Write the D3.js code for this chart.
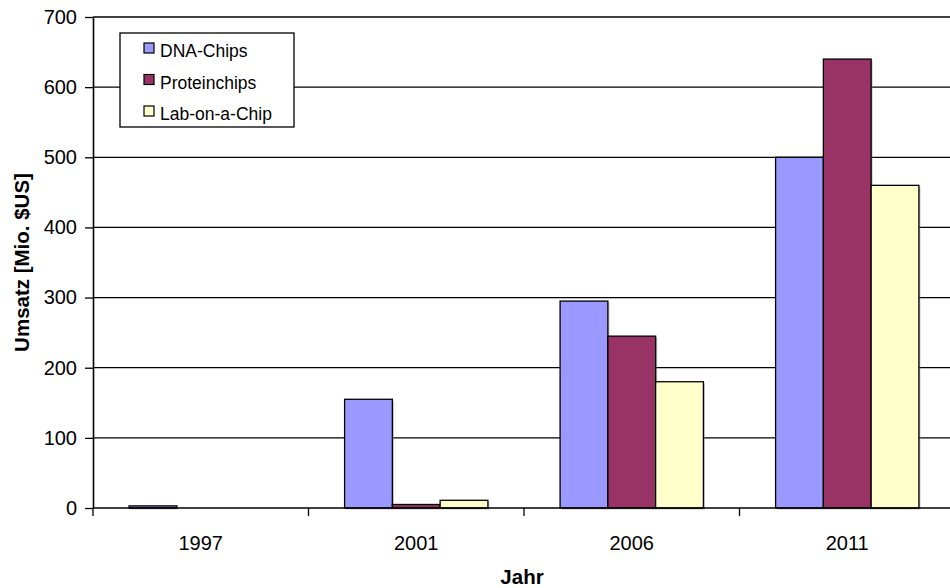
<!DOCTYPE html>
<html>
<head>
<meta charset="utf-8">
<script src="https://cdn.jsdelivr.net/npm/d3@7"></script>
<style>
  html, body { margin: 0; padding: 0; background: #fff; overflow: hidden; }
  svg { display: block; font-family: "Liberation Sans", Arial, sans-serif; }
</style>
</head>
<body>
<svg id="chart" width="950" height="588"></svg>
<script>
// Umsatz je Jahr und Chip-Typ (Mio. $US)
const years = ["1997", "2001", "2006", "2011"];
const seriesNames = ["DNA-Chips", "Proteinchips", "Lab-on-a-Chip"];
const dnaChips = [3, 155, 295, 500];
const proteinChips = [0, 5, 245, 640];
const labOnAChip = [0, 11, 180, 460];
const yTicks = [0, 100, 200, 300, 400, 500, 600, 700];
const colors = ["#9999FF", "#993366", "#FFFFCC"];

const seriesValues = [dnaChips, proteinChips, labOnAChip];

const svg = d3.select("#chart");
// the plot area runs a little past the right edge of the canvas
const plotLeft = 93, plotTop = 17, plotW = 862, plotH = 491;

const g = svg.append("g").attr("transform", `translate(${plotLeft},${plotTop})`);

const xOuter = d3.scaleBand().domain(years).range([0, plotW]);
const x = d3.scaleBand().domain(years).range([0, plotW]).paddingInner(0.335).paddingOuter(0.1675);
const xInner = d3.scaleBand().domain(seriesNames).range([0, x.bandwidth()]);
const y = d3.scaleLinear().domain([0, 700]).range([plotH, 0]);

// gridlines
g.append("g")
  .selectAll("line")
  .data(yTicks.filter(d => d > 0))
  .join("line")
  .attr("x1", 0).attr("x2", plotW)
  .attr("y1", d => y(d)).attr("y2", d => y(d))
  .attr("stroke", "#000").attr("stroke-width", 1.3);

// bars with a soft drop shadow
const groups = g.append("g")
  .selectAll("g")
  .data(years)
  .join("g")
  .attr("transform", d => `translate(${x(d)},0)`);

groups.each(function (yr, i) {
  const gg = d3.select(this);
  seriesNames.forEach((s, k) => {
    const v = seriesValues[k][i];
    if (v <= 0) return;
    gg.append("rect")
      .attr("x", xInner(s) + 1.5).attr("y", y(v) + 1.5)
      .attr("width", xInner.bandwidth()).attr("height", plotH - y(v))
      .attr("fill", "#888").attr("opacity", 0.5);
  });
  seriesNames.forEach((s, k) => {
    const v = seriesValues[k][i];
    if (v <= 0) return;
    gg.append("rect")
      .attr("x", xInner(s)).attr("y", y(v))
      .attr("width", xInner.bandwidth()).attr("height", plotH - y(v))
      .attr("fill", colors[k]).attr("stroke", "#000").attr("stroke-width", 1.3);
  });
});

// y axis
const yAxis = g.append("g")
  .call(d3.axisLeft(y).tickValues(yTicks).tickSize(8).tickPadding(8).tickSizeOuter(0));
yAxis.select(".domain").attr("stroke", "#000").attr("stroke-width", 1.6);
yAxis.selectAll(".tick line").attr("stroke", "#000").attr("stroke-width", 1.3);
yAxis.selectAll(".tick text")
  .style("font-size", "20px").style("font-family", "'Liberation Sans', Arial, sans-serif")
  .attr("fill", "#000");

// x axis: ticks between categories
const xAxisG = g.append("g").attr("transform", `translate(0,${plotH})`);
xAxisG.append("line").attr("x1", 0).attr("x2", plotW).attr("y1", 0).attr("y2", 0)
  .attr("stroke", "#000").attr("stroke-width", 1.6);
const boundaries = years.map(d => xOuter(d)).concat([plotW]);
xAxisG.selectAll("line.tk").data(boundaries).join("line").attr("class", "tk")
  .attr("x1", d => d).attr("x2", d => d).attr("y1", 0).attr("y2", 8)
  .attr("stroke", "#000").attr("stroke-width", 1.3);
xAxisG.selectAll("text").data(years).join("text")
  .attr("x", d => xOuter(d) + xOuter.bandwidth() / 2)
  .attr("y", 42)
  .attr("text-anchor", "middle")
  .style("font-size", "20px")
  .text(d => d);

// axis titles
svg.append("text")
  .attr("x", plotLeft + xOuter.bandwidth() * 2 - 2).attr("y", 584)
  .attr("text-anchor", "middle").style("font-size", "20.5px").attr("font-weight", "bold")
  .text("Jahr");
svg.append("text")
  .attr("transform", `translate(29,${plotTop + plotH / 2}) rotate(-90)`)
  .attr("text-anchor", "middle").style("font-size", "20.5px").attr("font-weight", "bold")
  .text("Umsatz [Mio. $US]");

// legend
const legend = svg.append("g").attr("transform", "translate(120,33)");
legend.append("rect").attr("width", 174).attr("height", 94)
  .attr("fill", "#fff").attr("stroke", "#000").attr("stroke-width", 1.3);
seriesNames.forEach((s, k) => {
  const row = legend.append("g").attr("transform", `translate(24,${24 + k * 31.5})`);
  row.append("rect").attr("x", 0).attr("y", -14).attr("width", 10).attr("height", 10)
    .attr("fill", colors[k]).attr("stroke", "#000").attr("stroke-width", 1.2);
  row.append("text").attr("x", 16).attr("y", 0).style("font-size", "17.5px").text(s);
});
</script>
</body>
</html>
